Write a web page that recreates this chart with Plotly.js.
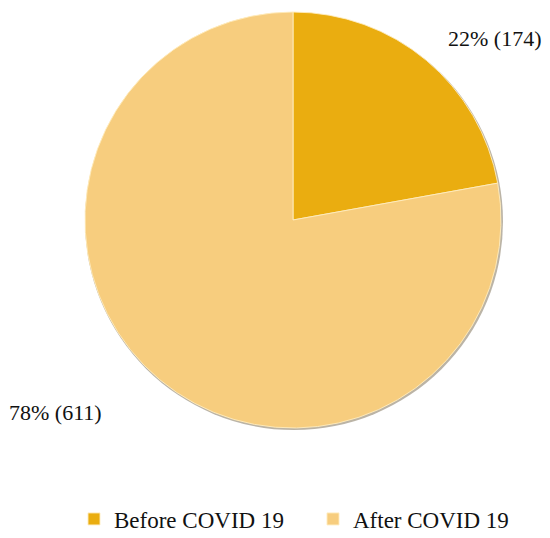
<!DOCTYPE html>
<html>
<head>
<meta charset="utf-8">
<script src="https://cdn.plot.ly/plotly-3.0.1.min.js"></script>
<style>html,body{margin:0;padding:0;background:#fff;}#chart{width:550px;height:538px;}</style>
</head>
<body>
<div id="chart"></div>
<script>
const categories = ["Before COVID 19", "After COVID 19"];
const counts = [174, 611];
const sliceColors = ["#EAAD10", "#F7CD7E"];

const total = counts.reduce((a, b) => a + b, 0);
const labelTexts = counts.map(v => Math.round(v / total * 100) + "% (" + v + ")");

const font = "Liberation Serif, Times New Roman, serif";

const trace = {
  type: "pie",
  labels: categories,
  values: counts,
  sort: false,
  direction: "clockwise",
  rotation: 0,
  textinfo: "none",
  hoverinfo: "label+value+percent",
  marker: { colors: sliceColors, line: { color: "rgba(255,236,190,0.9)", width: 1 } },
  domain: { x: [85 / 550, 501 / 550], y: [(538 - 428) / 538, (538 - 12) / 538] }
};

const layout = {
  width: 550,
  height: 538,
  margin: { l: 0, r: 0, t: 0, b: 0, autoexpand: false },
  paper_bgcolor: "#ffffff",
  font: { family: font, size: 22, color: "#111111" },
  showlegend: true,
  legend: {
    orientation: "h",
    x: 74 / 550,
    xanchor: "left",
    y: 1 - 519 / 538,
    yanchor: "middle",
    entrywidth: 194,
    font: { family: font, size: 23, color: "#111111" },
    traceorder: "normal"
  },
  shapes: [{
    type: "circle", xref: "paper", yref: "paper", layer: "below",
    x0: 85 / 550, x1: 503 / 550, y0: (538 - 430) / 538, y1: (538 - 13) / 538,
    fillcolor: "rgba(60,40,0,0.35)", line: { width: 0 }
  }],
  annotations: [
    { text: labelTexts[0], xref: "paper", yref: "paper", x: 494 / 550, y: 1 - 38 / 538,
      showarrow: false, xanchor: "center", yanchor: "middle", font: { family: font, size: 22, color: "#111" } },
    { text: labelTexts[1], xref: "paper", yref: "paper", x: 55 / 550, y: 1 - 412 / 538,
      showarrow: false, xanchor: "center", yanchor: "middle", font: { family: font, size: 22, color: "#111" } }
  ]
};

Plotly.newPlot("chart", [trace], layout, { displayModeBar: false, staticPlot: true });
</script>
</body>
</html>
